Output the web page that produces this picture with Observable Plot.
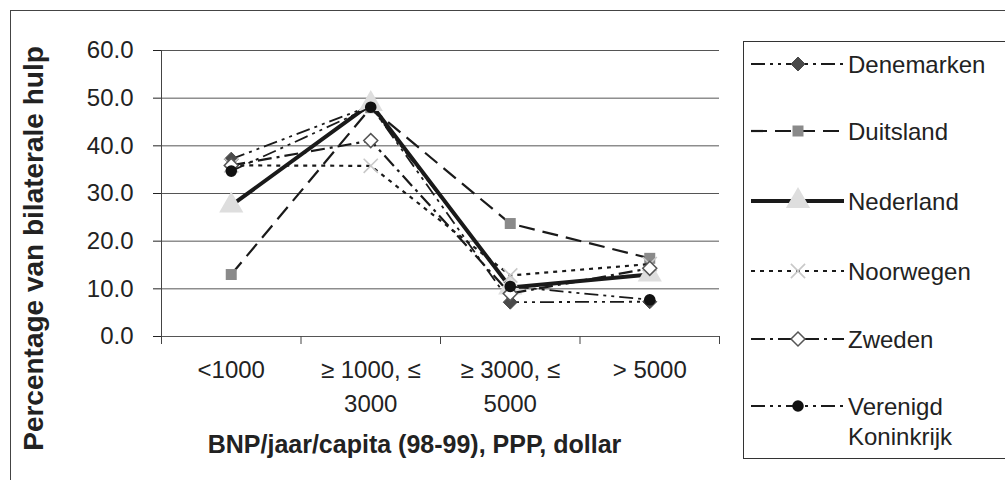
<!DOCTYPE html>
<html>
<head>
<meta charset="utf-8">
<script src="https://cdn.jsdelivr.net/npm/d3@7"></script>
<script src="https://cdn.jsdelivr.net/npm/@observablehq/plot@0.6"></script>
<style>
  body { margin: 0; background: #fff; }
  #wrap { position: relative; width: 1005px; height: 480px; overflow: hidden; background: #fff;
          font-family: "Liberation Sans", Arial, sans-serif; color: #222; }
  #frame { position: absolute; left: 10px; top: 10px; width: 1100px; height: 600px; border: 1px solid #444; }
  #chart { position: absolute; left: 0; top: 0; }
  #legend { position: absolute; left: 743px; top: 41px; width: 400px; height: 416px; border: 1px solid #333; background: #fff; }
</style>
</head>
<body>
<div id="wrap">
  <div id="frame"></div>
  <div id="chart"></div>
  <div id="legend"></div>
</div>
<script>
// ---- data ----
const categories = ["<1000", "\u2265 1000, \u2264\n3000", "\u2265 3000, \u2264\n5000", "> 5000"];
const countries = ["Denemarken", "Duitsland", "Nederland", "Noorwegen", "Zweden", "Verenigd Koninkrijk"];
const denemarken = [37.2, 48.4, 7.2, 7.3];
const duitsland = [13.0, 48.0, 23.7, 16.4];
const nederland = [27.5, 48.8, 10.3, 13.0];
const noorwegen = [35.9, 35.8, 12.8, 15.2];
const zweden = [35.9, 41.1, 9.0, 14.3];
const verenigdKoninkrijk = [34.7, 48.1, 10.5, 7.7];
const yTicks = [0, 10, 20, 30, 40, 50, 60];
const yTitle = "Percentage van bilaterale hulp";
const xTitle = "BNP/jaar/capita (98-99), PPP, dollar";

const seriesValues = [denemarken, duitsland, nederland, noorwegen, zweden, verenigdKoninkrijk];
const rows = countries.flatMap((c, k) => seriesValues[k].map((v, i) => ({country: c, cat: i, value: v})));

// ---- styles ----
const styles = {
  "Denemarken":          {dash: "14,5,3,5,3,5", width: 1.8, symbol: "diamond2", fill: "#4a4a4a", stroke: "#4a4a4a", r: 6.3, sw: 1},
  "Duitsland":           {dash: "16,8",         width: 2.2, symbol: "square",   fill: "#8a8a8a", stroke: "none",    r: 6.2, sw: 1},
  "Nederland":           {dash: null,           width: 4,   symbol: "triangle", fill: "#dedede", stroke: "none",    r: 9,   sw: 1},
  "Noorwegen":           {dash: "4,5",          width: 2.2, symbol: "times",    fill: "none",    stroke: "#c8c8c8", r: 6.5, sw: 1.6},
  "Zweden":              {dash: "14,5,3,5",     width: 2.2, symbol: "diamond2", fill: "#fff",    stroke: "#555",    r: 6.3, sw: 1.5},
  "Verenigd Koninkrijk": {dash: "14,5,3,5,3,5", width: 1.8, symbol: "circle",   fill: "#111",    stroke: "none",    r: 5.8, sw: 1}
};

const seriesMarks = countries.flatMap(c => {
  const s = styles[c];
  const data = rows.filter(d => d.country === c);
  return [
    Plot.line(data, {x: "cat", y: "value", stroke: "#1a1a1a", strokeWidth: s.width,
                     strokeDasharray: s.dash || undefined, strokeLinejoin: "miter", strokeLinecap: "butt"}),
    Plot.dot(data, {x: "cat", y: "value", symbol: () => s.symbol, fill: s.fill, stroke: s.stroke,
                    strokeWidth: s.sw, r: s.r})
  ];
});

const boundaries = categories.map((_, i) => i - 0.5).concat([categories.length - 0.5]);

const chart = Plot.plot({
  width: 740,
  height: 480,
  marginLeft: 161,
  marginRight: 21,
  marginTop: 50,
  marginBottom: 144,
  style: {fontFamily: "Liberation Sans, Arial, sans-serif", fontSize: "24px", color: "#222", background: "transparent", overflow: "visible"},
  x: {domain: [-0.5, categories.length - 0.5], axis: null},
  y: {domain: [0, 60], ticks: yTicks, tickFormat: d3.format(".1f"), tickSize: 8, tickPadding: 20, label: null},
  symbol: {type: "identity"},
  marks: [
    Plot.ruleY(yTicks, {stroke: "#555", strokeWidth: 1}),
    Plot.ruleX(boundaries, {y1: 0, y2: 0, insetBottom: -8, stroke: "#444"}),
    Plot.ruleX([-0.5], {stroke: "#444", insetBottom: -8}),
    ...seriesMarks,
    Plot.text(categories, {x: (d, i) => i, frameAnchor: "bottom", lineAnchor: "top", dy: 18, lineHeight: 1.4, fontSize: 24, fill: "#222"}),
    Plot.text([yTitle], {frameAnchor: "left", textAnchor: "middle", rotate: -90, dx: -127, dy: 55, fontSize: 28, fontWeight: "bold", fill: "#222"}),
    Plot.text([xTitle], {frameAnchor: "bottom", dx: -26, dy: 116, fontSize: 25, fontWeight: "bold", fill: "#222"})
  ]
});
document.getElementById("chart").appendChild(chart);

// ---- legend ----
const rowY = [22, 89, 159, 229, 297, 364];
const lsvg = d3.select("#legend").append("svg").attr("width", 400).attr("height", 416)
  .style("font-family", "Liberation Sans, Arial, sans-serif").style("font-size", "24px");
countries.forEach((c, k) => {
  const s = styles[c];
  const g = lsvg.append("g").attr("transform", `translate(0,${rowY[k]})`);
  g.append("line").attr("x1", 7).attr("x2", 100).attr("y1", 0).attr("y2", 0)
    .attr("stroke", "#1a1a1a").attr("stroke-width", s.width)
    .attr("stroke-dasharray", s.dash || null);
  const symMap = {diamond2: d3.symbolDiamond2, square: d3.symbolSquare, triangle: d3.symbolTriangle, times: d3.symbolTimes, circle: d3.symbolCircle};
  g.append("path").attr("transform", "translate(54,0)")
    .attr("d", d3.symbol(symMap[s.symbol], Math.PI * s.r * s.r)())
    .attr("fill", s.fill).attr("stroke", s.stroke).attr("stroke-width", s.sw);
  const words = c === "Verenigd Koninkrijk" ? ["Verenigd", "Koninkrijk"] : [c];
  words.forEach((w, j) => {
    g.append("text").attr("x", 104).attr("y", 8.5 + j * 30).attr("fill", "#222").text(w);
  });
});
</script>
</body>
</html>
